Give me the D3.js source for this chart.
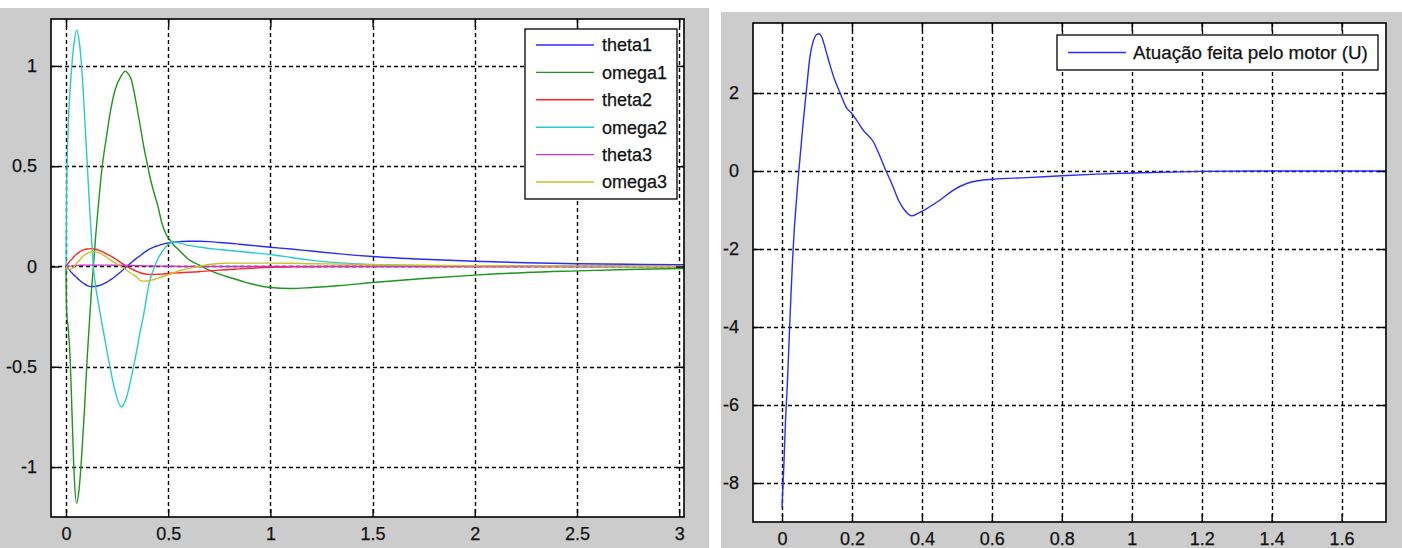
<!DOCTYPE html>
<html><head><meta charset="utf-8">
<script src="https://cdn.jsdelivr.net/npm/d3@7"></script>
<style>
html,body{margin:0;padding:0;background:#fff;}
svg{display:block;}
text{font-family:"Liberation Sans",Arial,sans-serif;fill:#111;}
</style></head><body>
<svg id="chart" width="1402" height="548"></svg>
<script>
// ---------- DATA: left panel (states) ----------
const tLeft = [0,0.003,0.01,0.02,0.03,0.04,0.052,0.065,0.077,0.09,0.104,0.115,0.126,0.134,0.145,0.158,0.175,0.2,0.215,0.24,0.27,0.29,0.297,0.32,0.346,0.36,0.38,0.4,0.41,0.43,0.45,0.468,0.49,0.51,0.525,0.56,0.6,0.65,0.7,0.75,0.8,0.85,0.9,1.0,1.1,1.2,1.34,1.5,1.75,2.0,2.25,2.5,2.75,3.0,3.1];
const theta1 = [0,-0.003,-0.01,-0.022,-0.033,-0.044,-0.055,-0.067,-0.077,-0.087,-0.095,-0.099,-0.1,-0.1,-0.099,-0.096,-0.09,-0.078,-0.068,-0.05,-0.025,-0.007,0,0.02,0.042,0.052,0.068,0.082,0.088,0.097,0.104,0.11,0.115,0.119,0.121,0.124,0.126,0.126,0.124,0.12,0.116,0.111,0.106,0.096,0.087,0.077,0.063,0.05,0.036,0.026,0.019,0.014,0.011,0.009,0.008];
const omega1 = [0,-0.22,-0.3,-0.45,-0.75,-1.04,-1.18,-1.1,-0.94,-0.72,-0.45,-0.27,-0.1,0,0.15,0.3,0.48,0.66,0.76,0.88,0.95,0.974,0.97,0.93,0.8,0.72,0.6,0.5,0.45,0.37,0.3,0.22,0.16,0.13,0.11,0.075,0.035,0.008,-0.018,-0.038,-0.055,-0.07,-0.085,-0.105,-0.11,-0.105,-0.095,-0.08,-0.06,-0.043,-0.03,-0.022,-0.015,-0.01,-0.009];
const theta2 = [0,0.004,0.015,0.028,0.038,0.05,0.062,0.072,0.079,0.084,0.087,0.088,0.089,0.088,0.086,0.082,0.075,0.062,0.054,0.04,0.018,0.005,0,-0.012,-0.024,-0.03,-0.036,-0.039,-0.04,-0.04,-0.039,-0.038,-0.036,-0.034,-0.033,-0.031,-0.029,-0.026,-0.022,-0.018,-0.015,-0.012,-0.009,-0.004,-0.002,-0.001,0,0,0,0,0,0,0,0,0];
const omega2 = [0,0.35,0.68,0.88,1.02,1.12,1.18,1.12,0.99,0.77,0.51,0.3,0.12,0,-0.1,-0.18,-0.28,-0.42,-0.5,-0.62,-0.7,-0.67,-0.65,-0.55,-0.42,-0.34,-0.24,-0.12,-0.07,-0.01,0.04,0.07,0.1,0.118,0.122,0.115,0.105,0.097,0.09,0.085,0.08,0.075,0.07,0.06,0.045,0.032,0.018,0.01,0.004,0.002,0.001,0,0,0,0];
const theta3 = [0,0,0.001,0.002,0.003,0.004,0.005,0.006,0.006,0.007,0.007,0.007,0.007,0.007,0.007,0.007,0.007,0.007,0.007,0.006,0.006,0.005,0.005,0.005,0.004,0.004,0.003,0.003,0.003,0.002,0.002,0.002,0.001,0.001,0.001,0,0,0,0,0,0,0,0,0,0,0,0,0,0,0,0,0,0,0,0];
const omega3 = [0,-0.005,-0.012,-0.015,-0.01,0,0.015,0.03,0.045,0.057,0.066,0.071,0.073,0.074,0.073,0.07,0.062,0.045,0.034,0.018,0,-0.015,-0.02,-0.035,-0.052,-0.068,-0.073,-0.072,-0.07,-0.065,-0.058,-0.052,-0.045,-0.038,-0.032,-0.02,-0.01,0,0.01,0.015,0.017,0.017,0.017,0.017,0.016,0.014,0.012,0.009,0.006,0.004,0.003,0.002,0.001,0.001,0.001];
const leftNames = ["theta1","omega1","theta2","omega2","theta3","omega3"];
const leftXTicks = [0,0.5,1,1.5,2,2.5,3];
const leftYTicks = [-1,-0.5,0,0.5,1];

// ---------- DATA: right panel (motor actuation) ----------
const tU = [0,0.005,0.01,0.015,0.02,0.025,0.03,0.035,0.04,0.045,0.05,0.06,0.069,0.08,0.09,0.099,0.106,0.113,0.125,0.137,0.15,0.166,0.185,0.199,0.215,0.232,0.261,0.28,0.294,0.315,0.333,0.35,0.371,0.39,0.42,0.451,0.49,0.528,0.56,0.604,0.7,0.8,0.9,1.0,1.1,1.2,1.4,1.8];
const U  = [-8.63,-7.6,-6.4,-5.5,-4.4,-3.3,-2.3,-1.5,-0.9,-0.32,0.2,1.2,2.0,2.94,3.35,3.5,3.52,3.45,3.1,2.72,2.35,2.0,1.61,1.48,1.28,1.05,0.75,0.38,0.07,-0.35,-0.75,-1.0,-1.15,-1.08,-0.93,-0.75,-0.49,-0.32,-0.25,-0.21,-0.17,-0.12,-0.08,-0.05,-0.03,-0.01,0,0];
const rightName = "Atuação feita pelo motor (U)";
const rightXTicks = [0,0.2,0.4,0.6,0.8,1,1.2,1.4,1.6];
const rightYTicks = [-8,-6,-4,-2,0,2];

// ---------- styling ----------
const leftColors = ["#2b2bff","#1c961c","#ff2626","#26cccc","#cc33cc","#c8c024"];
const svg = d3.select("#chart");
const FIG = "#cccccc";

svg.append("rect").attr("x",0).attr("y",8).attr("width",709).attr("height",540).attr("fill",FIG);
svg.append("rect").attr("x",721).attr("y",12).attr("width",681).attr("height",536).attr("fill",FIG);

function panel(id, box, xDom, yDom, xTicks, yTicks, series, legend, labelFont){
  const g = svg.append("g");
  const x = d3.scaleLinear().domain(xDom).range([box.x0, box.x1]);
  const y = d3.scaleLinear().domain(yDom).range([box.y1, box.y0]);
  g.append("rect").attr("x",box.x0).attr("y",box.y0).attr("width",box.x1-box.x0).attr("height",box.y1-box.y0).attr("fill","#fff");
  g.append("clipPath").attr("id",id).append("rect")
    .attr("x",box.x0).attr("y",box.y0).attr("width",box.x1-box.x0).attr("height",box.y1-box.y0);
  // grid
  const grid = g.append("g").attr("stroke","#000").attr("stroke-width",1.4).attr("stroke-dasharray","4,3");
  xTicks.forEach(v=>grid.append("line").attr("x1",Math.round(x(v))+0.5).attr("x2",Math.round(x(v))+0.5).attr("y1",box.y0).attr("y2",box.y1));
  yTicks.forEach(v=>grid.append("line").attr("y1",Math.round(y(v))+0.5).attr("y2",Math.round(y(v))+0.5).attr("x1",box.x0).attr("x2",box.x1));
  // series
  const line = d3.line().x(d=>x(d[0])).y(d=>y(d[1])).curve(d3.curveMonotoneX);
  const sg = g.append("g").attr("clip-path",`url(#${id})`);
  series.forEach(s=>{
    sg.append("path").datum(s.t.map((t,i)=>[t,s.v[i]])).attr("d",line)
      .attr("fill","none").attr("stroke",s.color).attr("stroke-width",1.4).attr("stroke-linejoin","round");
  });
  // axes (ticks inward on all four sides)
  const tk = 8;
  const axG = g.append("g");
  axG.append("g").attr("transform",`translate(0,${box.y1})`)
    .call(d3.axisBottom(x).tickValues(xTicks).tickSize(-tk).tickSizeOuter(0).tickPadding(10).tickFormat(d=>String(d)));
  axG.append("g").attr("transform",`translate(0,${box.y0})`)
    .call(d3.axisTop(x).tickValues(xTicks).tickSize(-tk).tickSizeOuter(0).tickFormat(""));
  axG.append("g").attr("transform",`translate(${box.x0},0)`)
    .call(d3.axisLeft(y).tickValues(yTicks).tickSize(-tk).tickSizeOuter(0).tickPadding(14).tickFormat(d=>String(d)));
  axG.append("g").attr("transform",`translate(${box.x1},0)`)
    .call(d3.axisRight(y).tickValues(yTicks).tickSize(-tk).tickSizeOuter(0).tickFormat(""));
  axG.selectAll(".domain").remove();
  axG.selectAll(".tick line").attr("stroke","#000").attr("stroke-width",1.4);
  axG.selectAll("text").attr("font-size",labelFont).attr("fill","#111").attr("stroke","#111").attr("stroke-width",0.25)
    .style("font-family","'Liberation Sans',Arial,sans-serif");
  g.append("rect").attr("x",box.x0).attr("y",box.y0).attr("width",box.x1-box.x0).attr("height",box.y1-box.y0)
    .attr("fill","none").attr("stroke","#000").attr("stroke-width",1.6);
  // legend
  const lg = g.append("g");
  lg.append("rect").attr("x",legend.x).attr("y",legend.y).attr("width",legend.w).attr("height",legend.h)
    .attr("fill","#fff").attr("stroke","#000").attr("stroke-width",1.3);
  series.forEach((s,i)=>{
    const yy = legend.y + legend.first + i*legend.step;
    lg.append("line").attr("x1",legend.x+legend.l0).attr("x2",legend.x+legend.l1).attr("y1",yy).attr("y2",yy)
      .attr("stroke",s.color).attr("stroke-width",1.4);
    lg.append("text").attr("x",legend.x+legend.tx).attr("y",yy).attr("dy","0.35em")
      .attr("font-size",legend.font).attr("stroke","#111").attr("stroke-width",0.25).text(s.name);
  });
}

const leftSeries = [theta1,omega1,theta2,omega2,theta3,omega3].map((v,i)=>({name:leftNames[i],t:tLeft,v:v,color:leftColors[i]}));
panel("clipL",{x0:51,x1:684,y0:19,y1:517},[-0.0734,3.0235],[-1.249,1.234],leftXTicks,leftYTicks,leftSeries,
  {x:525,y:29,w:152,h:170,first:16,step:27.4,l0:11,l1:69,tx:77,font:18},18);

panel("clipR",{x0:753,x1:1386,y0:23,y1:522},[-0.083,1.727],[-9.0,3.795],rightXTicks,rightYTicks,
  [{name:rightName,t:tU,v:U,color:"#2b2bff"}],
  {x:1057,y:35,w:321,h:35,first:17.5,step:27,l0:11,l1:69,tx:76,font:18.8},18);
</script></body></html>
